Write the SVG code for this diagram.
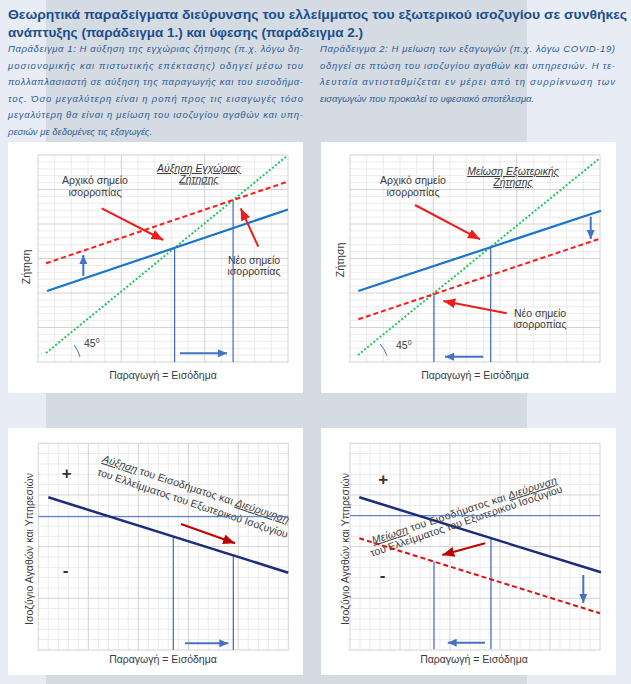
<svg xmlns="http://www.w3.org/2000/svg" xmlns:xlink="http://www.w3.org/1999/xlink" width="631" height="684" viewBox="0 0 631 684">
<style>
.title{font-family:"Liberation Sans","Noto Sans",sans-serif;font-weight:bold;font-size:13.5px;fill:#1b4f8e}
.para{font-family:"Liberation Sans","Noto Sans",sans-serif;font-style:italic;font-size:9.5px;fill:#2d5b97}
.lbl{font-family:"Liberation Sans","Noto Sans",sans-serif;font-size:10.5px;fill:#3a3a3a}
.ax{font-family:"Liberation Sans","Noto Sans",sans-serif;font-size:10.5px;fill:#3a3a3a}
.ul{font-style:italic;text-decoration:underline}
.sign{font-family:"Liberation Sans",sans-serif;font-weight:bold;font-size:17px;fill:#333}
.minor{stroke:#ebebeb;stroke-width:1;fill:none}
.major{stroke:#d2d2d2;stroke-width:1;fill:none}
.vref{stroke:#3f66c8;stroke-width:1.2;fill:none}
.barrow{stroke:#4472c4;stroke-width:2;fill:none;marker-end:url(#ab)}
.rarrow{stroke:#ee1c1c;stroke-width:2;fill:none;marker-end:url(#ar)}
.drarrow{stroke:#c00000;stroke-width:2;fill:none;marker-end:url(#adr)}
</style>
<defs>
<marker id="ab" viewBox="0 0 10 10" refX="10" refY="5" markerWidth="9" markerHeight="8" markerUnits="userSpaceOnUse" orient="auto" preserveAspectRatio="none"><path d="M0 0L10 5L0 10z" fill="#4472c4"/></marker>
<marker id="ar" viewBox="0 0 10 10" refX="10" refY="5" markerWidth="12" markerHeight="10" markerUnits="userSpaceOnUse" orient="auto" preserveAspectRatio="none"><path d="M0 0L10 5L0 10z" fill="#ee1c1c"/></marker>
<marker id="adr" viewBox="0 0 10 10" refX="10" refY="5" markerWidth="12" markerHeight="10" markerUnits="userSpaceOnUse" orient="auto" preserveAspectRatio="none"><path d="M0 0L10 5L0 10z" fill="#c00000"/></marker>
<g id="gridTop">
<path class="minor" d="M16.67 0V207M33.33 0V207M50 0V207M66.67 0V207M100 0V207M116.67 0V207M133.33 0V207M150 0V207M183.33 0V207M200 0V207M216.67 0V207M233.33 0V207M0 6.9H250M0 13.8H250M0 20.7H250M0 27.6H250M0 41.4H250M0 48.3H250M0 55.2H250M0 62.1H250M0 75.9H250M0 82.8H250M0 89.7H250M0 96.6H250M0 110.4H250M0 117.3H250M0 124.2H250M0 131.1H250M0 144.9H250M0 151.8H250M0 158.7H250M0 165.6H250M0 179.4H250M0 186.3H250M0 193.2H250M0 200.1H250"/>
<path class="major" d="M83.33 0V207M166.67 0V207M0 34.5H250M0 69H250M0 103.5H250M0 138H250M0 172.5H250"/>
<rect class="major" x="0" y="0" width="250" height="207"/>
</g>
<g id="gridBot">
<path class="minor" d="M10 0V206.7M20 0V206.7M30 0V206.7M40 0V206.7M60 0V206.7M70 0V206.7M80 0V206.7M90 0V206.7M110 0V206.7M120 0V206.7M130 0V206.7M140 0V206.7M160 0V206.7M170 0V206.7M180 0V206.7M190 0V206.7M210 0V206.7M220 0V206.7M230 0V206.7M240 0V206.7M0 10.33H250M0 20.67H250M0 31H250M0 41.33H250M0 62H250M0 72.33H250M0 82.67H250M0 93H250M0 113.67H250M0 124H250M0 134.33H250M0 144.67H250M0 165.33H250M0 175.67H250M0 186H250M0 196.33H250"/>
<path class="major" d="M50 0V206.7M100 0V206.7M150 0V206.7M200 0V206.7M0 51.67H250M0 103.33H250M0 155H250"/>
<rect class="major" x="0" y="0" width="250" height="206.7"/>
</g>
</defs>

<!-- background -->
<rect x="0" y="0" width="631" height="684" fill="#e8edf5"/>
<rect x="46" y="0" width="481" height="684" fill="#d5dbe2"/>

<!-- header -->
<g id="header">
<text class="title" x="8" y="19" textLength="619" lengthAdjust="spacingAndGlyphs">Θεωρητικά παραδείγματα διεύρυνσης του ελλείμματος του εξωτερικού ισοζυγίου σε συνθήκες</text>
<text class="title" x="8" y="37" textLength="355" lengthAdjust="spacingAndGlyphs">ανάπτυξης (παράδειγμα 1.) και ύφεσης (παράδειγμα 2.)</text>
</g>
<g id="text-ex1">
<text class="para" x="8" y="52" textLength="295" lengthAdjust="spacing">Παράδειγμα 1: Η αύξηση της εγχώριας ζήτησης (π.χ. λόγω δη-</text>
<text class="para" x="8" y="68.5" textLength="295" lengthAdjust="spacing">μοσιονομικής και πιστωτικής επέκτασης) οδηγεί μέσω του</text>
<text class="para" x="8" y="85" textLength="295" lengthAdjust="spacing">πολλαπλασιαστή σε αύξηση της παραγωγής και του εισοδήμα-</text>
<text class="para" x="8" y="101.5" textLength="295" lengthAdjust="spacing">τος. Όσο μεγαλύτερη είναι η ροπή προς τις εισαγωγές τόσο</text>
<text class="para" x="8" y="118" textLength="295" lengthAdjust="spacing">μεγαλύτερη θα είναι η μείωση του ισοζυγίου αγαθών και υπη-</text>
<text class="para" x="8" y="134.5">ρεσιών με δεδομένες τις εξαγωγές.</text>
</g>
<g id="text-ex2">
<text class="para" x="320" y="52" textLength="295" lengthAdjust="spacing">Παράδειγμα 2: Η μείωση των εξαγωγών (π.χ. λόγω COVID-19)</text>
<text class="para" x="320" y="68.5" textLength="295" lengthAdjust="spacing">οδηγεί σε πτώση του ισοζυγίου αγαθών και υπηρεσιών. Η τε-</text>
<text class="para" x="320" y="85" textLength="295" lengthAdjust="spacing">λευταία αντισταθμίζεται εν μέρει από τη συρρίκνωση των</text>
<text class="para" x="320" y="101.5">εισαγωγών που προκαλεί το υφεσιακό αποτέλεσμα.</text>
</g>

<!-- panels -->
<rect x="8" y="142" width="295" height="251" fill="#ffffff"/>
<rect x="321" y="142" width="295" height="251" fill="#ffffff"/>
<rect x="8" y="428" width="295" height="247" fill="#ffffff"/>
<rect x="321" y="428" width="295" height="247" fill="#ffffff"/>

<!-- chart 1 -->
<g id="chart1">
<use xlink:href="#gridTop" x="38" y="155"/>
<text class="lbl" x="95" y="184" text-anchor="middle">Αρχικό σημείο</text>
<text class="lbl" x="95" y="195.5" text-anchor="middle">ισορροπίας</text>
<text class="lbl ul" x="199" y="172" text-anchor="middle">Αύξηση Εγχώριας</text>
<text class="lbl ul" x="199" y="182.5" text-anchor="middle">Ζήτησης</text>
<text class="lbl" x="254" y="264" text-anchor="middle">Νέο σημείο</text>
<text class="lbl" x="254" y="275" text-anchor="middle">ισορροπίας</text>
<text class="lbl" x="84" y="347">45<tspan dy="-4" font-size="7">0</tspan></text>
<text class="ax" transform="translate(30,267) rotate(-90)" text-anchor="middle">Ζήτηση</text>
<text class="ax" x="163" y="379" text-anchor="middle">Παραγωγή = Εισόδημα</text>
</g>

<!-- chart 2 -->
<g id="chart2">
<use xlink:href="#gridTop" x="350" y="155"/>
<text class="lbl" x="413" y="184" text-anchor="middle">Αρχικό σημείο</text>
<text class="lbl" x="413" y="195.5" text-anchor="middle">ισορροπίας</text>
<text class="lbl ul" x="513" y="175" text-anchor="middle">Μείωση Εξωτερικής</text>
<text class="lbl ul" x="513" y="186" text-anchor="middle">Ζήτησης</text>
<text class="lbl" x="540" y="316.5" text-anchor="middle">Νέο σημείο</text>
<text class="lbl" x="540" y="327.5" text-anchor="middle">ισορροπίας</text>
<text class="lbl" x="396" y="349">45<tspan dy="-4" font-size="7">0</tspan></text>
<text class="ax" transform="translate(344,260) rotate(-90)" text-anchor="middle">Ζήτηση</text>
<text class="ax" x="475" y="379" text-anchor="middle">Παραγωγή = Εισόδημα</text>
</g>

<!-- chart 3 -->
<g id="chart3">
<use xlink:href="#gridBot" x="38.3" y="443.3"/>
<text class="sign" x="66.7" y="479" text-anchor="middle">+</text>
<text class="sign" x="65.7" y="576" text-anchor="middle">-</text>
<text class="lbl" transform="translate(101.7,461.7) rotate(18.3)" textLength="196" lengthAdjust="spacing"><tspan class="ul">Αύξηση</tspan> του Εισοδήματος και <tspan class="ul">Διεύρυνηση</tspan></text>
<text class="lbl" transform="translate(96.7,475) rotate(18.4)" textLength="200" lengthAdjust="spacing">του Ελλείμματος του Εξωτερικού Ισοζυγίου</text>
<text class="ax" transform="translate(33,549) rotate(-90)" text-anchor="middle" textLength="152" lengthAdjust="spacing">Ισοζύγιο Αγαθών και Υπηρεσιών</text>
<text class="ax" x="163" y="663" text-anchor="middle">Παραγωγή = Εισόδημα</text>
</g>

<!-- chart 4 -->
<g id="chart4">
<use xlink:href="#gridBot" x="350" y="443.3"/>
<text class="sign" x="383.3" y="485" text-anchor="middle">+</text>
<text class="sign" x="382.7" y="581" text-anchor="middle">-</text>
<text class="lbl" transform="translate(373.3,544) rotate(-18.25)" textLength="194" lengthAdjust="spacing"><tspan class="ul">Μείωση</tspan> του Εισοδήματος και <tspan class="ul">Διεύρυνση</tspan></text>
<text class="lbl" transform="translate(371.7,556.7) rotate(-18.7)" textLength="202" lengthAdjust="spacing">του Ελλείμματος του Εξωτερικού Ισοζυγίου</text>
<text class="ax" transform="translate(349,549) rotate(-90)" text-anchor="middle" textLength="152" lengthAdjust="spacing">Ισοζύγιο Αγαθών και Υπηρεσιών</text>
<text class="ax" x="474" y="663" text-anchor="middle">Παραγωγή = Εισόδημα</text>
</g>

<!-- connectors / curves -->
<g id="connectors">
<!-- chart 1 -->
<line x1="174.6" y1="248.3" x2="174.6" y2="362" class="vref"/>
<line x1="233.1" y1="200.1" x2="233.1" y2="362" class="vref"/>
<line x1="46" y1="353" x2="287" y2="156" stroke="#22c55e" stroke-width="2" stroke-dasharray="2 2"/>
<line x1="47" y1="291" x2="288" y2="209.5" stroke="#1874cd" stroke-width="2.2"/>
<line x1="46" y1="263.3" x2="288" y2="181.5" stroke="#ff1a1a" stroke-width="2" stroke-dasharray="5 3"/>
<path d="M74 345 A30 30 0 0 1 80 357" stroke="#4472c4" stroke-width="1" fill="none"/>
<line x1="83.3" y1="276" x2="83.3" y2="255" class="barrow"/>
<line x1="180" y1="353.3" x2="227" y2="353.3" class="barrow"/>
<line x1="101.7" y1="208.3" x2="163.3" y2="240" class="rarrow"/>
<line x1="258.3" y1="246.7" x2="240.7" y2="208.3" class="rarrow"/>
<!-- chart 2 -->
<line x1="490.7" y1="247.3" x2="490.7" y2="362" class="vref"/>
<line x1="434" y1="293.3" x2="434" y2="362" class="vref"/>
<line x1="358" y1="355" x2="600" y2="158" stroke="#22c55e" stroke-width="2" stroke-dasharray="2 2"/>
<line x1="358.3" y1="291" x2="601" y2="210.7" stroke="#1874cd" stroke-width="2.2"/>
<line x1="358.3" y1="319.3" x2="601" y2="238.3" stroke="#ff1a1a" stroke-width="2" stroke-dasharray="5 3"/>
<path d="M380 344 A30 30 0 0 1 387 356" stroke="#4472c4" stroke-width="1" fill="none"/>
<line x1="483.3" y1="356.7" x2="445" y2="356.7" class="barrow"/>
<line x1="590.7" y1="216.7" x2="590.7" y2="239" class="barrow"/>
<line x1="415" y1="205" x2="480" y2="239.3" class="rarrow"/>
<line x1="506.7" y1="313.3" x2="443.3" y2="301" class="rarrow"/>
<!-- chart 3 -->
<line x1="38.3" y1="516.7" x2="288.3" y2="516.7" stroke="#3f66c8" stroke-width="1"/>
<line x1="173.3" y1="536.6" x2="173.3" y2="650" class="vref"/>
<line x1="233.3" y1="555.4" x2="233.3" y2="650" class="vref"/>
<line x1="48.3" y1="497.3" x2="288.3" y2="572.7" stroke="#1c2e78" stroke-width="2.5"/>
<line x1="185" y1="643.3" x2="228.3" y2="643.3" class="barrow"/>
<line x1="181" y1="524" x2="235" y2="543.3" class="drarrow"/>
<!-- chart 4 -->
<line x1="350" y1="515.7" x2="600" y2="515.7" stroke="#3f66c8" stroke-width="1"/>
<line x1="491" y1="538.2" x2="491" y2="649.3" class="vref"/>
<line x1="434" y1="561.6" x2="434" y2="649.3" class="vref"/>
<line x1="359.3" y1="497.3" x2="601" y2="572.3" stroke="#1c2e78" stroke-width="2.5"/>
<line x1="359.3" y1="538.3" x2="600" y2="613.3" stroke="#dd1111" stroke-width="2" stroke-dasharray="5 3"/>
<line x1="485" y1="642.7" x2="447.7" y2="642.7" class="barrow"/>
<line x1="583.3" y1="575" x2="583.3" y2="603" class="barrow"/>
<line x1="485" y1="543.3" x2="442.3" y2="555" class="drarrow"/>
</g>
</svg>
